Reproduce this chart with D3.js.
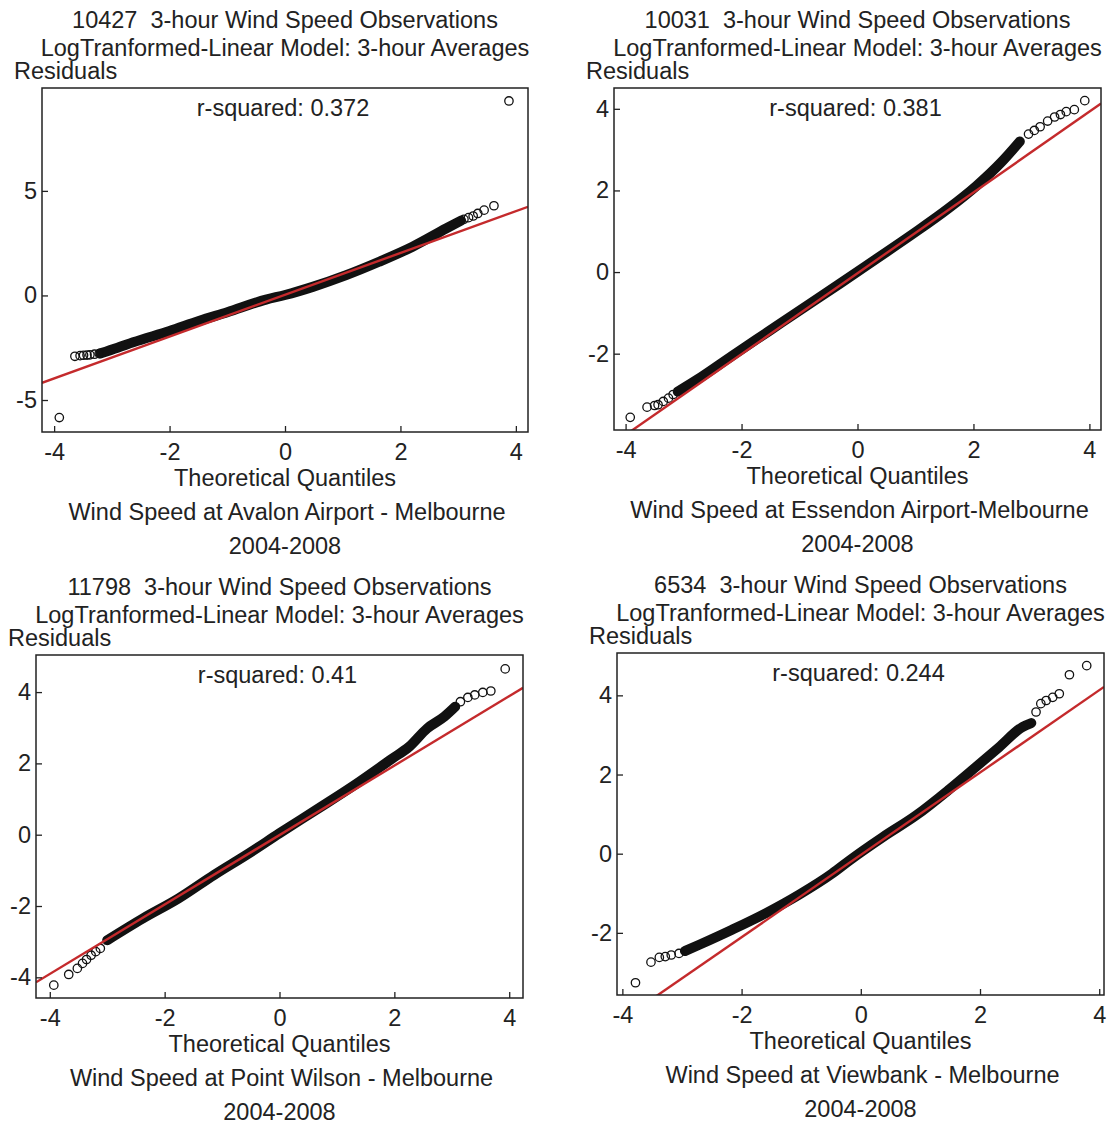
<!DOCTYPE html>
<html>
<head>
<meta charset="utf-8">
<script src="https://cdn.jsdelivr.net/npm/d3@7"></script>
<style>
  body { margin: 0; background: #fff; }
  svg { display: block; }
  text { font-family: "Liberation Sans", Arial, sans-serif; fill: #222; }
</style>
</head>
<body>
<svg id="chart"></svg>
<script>
const width = 1114;
const height = 1124;

// data
const obsCounts = ["10427", "10031", "11798", "6534"];
const stations = [
    "Wind Speed at Avalon Airport - Melbourne",
    "Wind Speed at Essendon Airport-Melbourne",
    "Wind Speed at Point Wilson - Melbourne",
    "Wind Speed at Viewbank - Melbourne"
];
const rSquared = ["0.372", "0.381", "0.41", "0.244"];
const period = "2004-2008";
const xTicks = [-4, -2, 0, 2, 4];
const yTickSets = [[-5, 0, 5], [-2, 0, 2, 4], [-4, -2, 0, 2, 4], [-2, 0, 2, 4]];
const xRanges = [[-4.21, 4.21], [-4.2, 4.2], [-4.24, 4.24], [-4.09, 4.08]];
const yRanges = [[-6.53, 9.92], [-3.87, 4.51], [-4.58, 5.04], [-3.57, 5.07]];

// qqline: [intercept, slope]
const qqLines = [[0.03, 1.0], [-0.03, 0.99], [-0.01, 0.974], [-0.03, 1.04]];

// dense part of each sample (theoretical quantile, residual)
const avalonBand = [[-3.2, -2.77], [-2.9, -2.5], [-2.63, -2.24], [-2.0, -1.7], [-1.48, -1.21],
    [-1.0, -0.8], [-0.33, -0.2], [0.0, 0.02], [0.48, 0.41], [1.06, 0.97], [1.63, 1.61],
    [2.21, 2.33], [2.79, 3.2], [3.05, 3.58]];
const essendonBand = [[-3.1, -2.93], [-2.77, -2.64], [-2.15, -2.04], [-1.53, -1.45], [-0.91, -0.86],
    [-0.3, -0.28], [0.3, 0.3], [0.94, 0.92], [1.56, 1.55], [2.05, 2.11], [2.48, 2.69], [2.8, 3.2]];
const wilsonBand = [[-3.0, -2.96], [-2.38, -2.35], [-1.76, -1.79], [-1.14, -1.13], [-0.53, -0.52],
    [0.0, 0.04], [0.71, 0.77], [1.33, 1.42], [1.95, 2.12], [2.26, 2.47], [2.57, 2.98],
    [2.87, 3.31], [3.06, 3.59]];
const viewbankBand = [[-2.95, -2.46], [-2.71, -2.3], [-2.16, -1.92], [-1.59, -1.5], [-1.03, -1.03],
    [-0.48, -0.5], [-0.19, -0.17], [0.37, 0.42], [0.93, 0.97], [1.48, 1.62], [1.93, 2.19],
    [2.32, 2.69], [2.71, 3.2], [2.86, 3.3]];

// sparse tail points drawn as single circles
const avalonTail = [[-3.91, -5.84], [-3.64, -2.91], [-3.55, -2.88], [-3.49, -2.86], [-3.43, -2.85],
    [-3.38, -2.84], [-3.3, -2.81], [-3.22, -2.78], [3.1, 3.64], [3.18, 3.72], [3.26, 3.8],
    [3.34, 3.92], [3.45, 4.08], [3.62, 4.29], [3.88, 9.3]];
const essendonTail = [[-3.92, -3.56], [-3.63, -3.31], [-3.5, -3.27], [-3.44, -3.25], [-3.35, -3.17],
    [-3.26, -3.09], [-3.18, -3.0], [2.95, 3.38], [3.05, 3.47], [3.15, 3.56], [3.28, 3.7],
    [3.4, 3.8], [3.5, 3.86], [3.6, 3.93], [3.74, 3.98], [3.92, 4.2]];
const wilsonTail = [[-3.93, -4.22], [-3.67, -3.92], [-3.52, -3.75], [-3.43, -3.61], [-3.36, -3.5],
    [-3.28, -3.38], [-3.2, -3.28], [-3.12, -3.19], [3.15, 3.73], [3.28, 3.85], [3.4, 3.92],
    [3.54, 3.99], [3.68, 4.03], [3.93, 4.65]];
const viewbankTail = [[-3.78, -3.26], [-3.52, -2.74], [-3.38, -2.62], [-3.28, -2.6], [-3.18, -2.56],
    [-3.05, -2.52], [2.94, 3.58], [3.02, 3.79], [3.11, 3.87], [3.22, 3.95], [3.33, 4.04],
    [3.5, 4.52], [3.79, 4.75]];

const bands = [avalonBand, essendonBand, wilsonBand, viewbankBand];
const tails = [avalonTail, essendonTail, wilsonTail, viewbankTail];

// plot boxes on the page
const boxes = [
    { left: 42, top: 88, right: 528, bottom: 432 },
    { left: 614, top: 88, right: 1101, bottom: 430 },
    { left: 36, top: 655, right: 523, bottom: 998 },
    { left: 617, top: 653, right: 1104, bottom: 995 }
];

const svg = d3.select('#chart')
    .attr('width', width)
    .attr('height', height);

svg.append('rect').attr('width', width).attr('height', height).attr('fill', '#fff');

const fontSize = 23.5;

boxes.forEach((b, i) => {
    const x = d3.scaleLinear().domain(xRanges[i]).range([b.left, b.right]);
    const y = d3.scaleLinear().domain(yRanges[i]).range([b.bottom, b.top]);
    const cx = (b.left + b.right) / 2;
    const g = svg.append('g').style('font-size', fontSize + 'px');

    g.append('defs').append('clipPath').attr('id', 'clip' + i)
        .append('rect')
        .attr('x', b.left).attr('y', b.top)
        .attr('width', b.right - b.left).attr('height', b.bottom - b.top);

    // titles
    g.append('text').attr('x', cx).attr('y', b.top - 68)
        .attr('text-anchor', 'middle').attr('dominant-baseline', 'central')
        .text(obsCounts[i] + '\u00a0 3-hour Wind Speed Observations');
    g.append('text').attr('x', cx).attr('y', b.top - 40)
        .attr('text-anchor', 'middle').attr('dominant-baseline', 'central')
        .text('LogTranformed-Linear Model: 3-hour Averages');
    g.append('text').attr('x', b.left - 28).attr('y', b.top - 17)
        .attr('dominant-baseline', 'central')
        .text('Residuals');

    const plot = g.append('g').attr('clip-path', `url(#clip${i})`);

    // dense band of overlapping circles
    plot.append('path')
        .datum(bands[i])
        .attr('fill', 'none')
        .attr('stroke', '#111')
        .attr('stroke-width', 10)
        .attr('stroke-linecap', 'round')
        .attr('stroke-linejoin', 'round')
        .attr('d', d3.line().x(d => x(d[0])).y(d => y(d[1])).curve(d3.curveMonotoneX));

    plot.selectAll('circle.pt')
        .data(tails[i])
        .enter().append('circle')
        .attr('class', 'pt')
        .attr('cx', d => x(d[0]))
        .attr('cy', d => y(d[1]))
        .attr('r', 4.2)
        .attr('fill', 'none')
        .attr('stroke', '#111')
        .attr('stroke-width', 1.3);

    // qqline
    const [a, s] = qqLines[i];
    const xd = x.domain();
    plot.append('line')
        .attr('x1', x(xd[0])).attr('y1', y(a + s * xd[0]))
        .attr('x2', x(xd[1])).attr('y2', y(a + s * xd[1]))
        .attr('stroke', '#c42a2c')
        .attr('stroke-width', 2.4);

    g.append('text').attr('x', cx - 2).attr('y', b.top + 20)
        .attr('text-anchor', 'middle').attr('dominant-baseline', 'central')
        .text('r-squared: ' + rSquared[i]);

    // axes with inward ticks
    const xAxis = g.append('g')
        .attr('transform', `translate(0,${b.bottom})`)
        .call(d3.axisBottom(x).tickValues(xTicks).tickSize(-6).tickSizeOuter(0).tickPadding(11)
            .tickFormat(d3.format('d')));
    const yAxis = g.append('g')
        .attr('transform', `translate(${b.left},0)`)
        .call(d3.axisLeft(y).tickValues(yTickSets[i]).tickSize(-6).tickSizeOuter(0).tickPadding(5)
            .tickFormat(d3.format('d')));
    [xAxis, yAxis].forEach(ax => {
        ax.select('.domain').remove();
        ax.selectAll('line').attr('stroke', '#222').attr('stroke-width', 1.3);
        ax.selectAll('text').style('font-size', fontSize + 'px')
            .style('font-family', '"Liberation Sans", Arial, sans-serif')
            .attr('fill', '#222')
            .text(d => d < 0 ? '-' + Math.abs(d) : d);
    });

    g.append('rect')
        .attr('x', b.left).attr('y', b.top)
        .attr('width', b.right - b.left).attr('height', b.bottom - b.top)
        .attr('fill', 'none').attr('stroke', '#222').attr('stroke-width', 1.5);

    g.append('text').attr('x', cx).attr('y', b.bottom + 46)
        .attr('text-anchor', 'middle').attr('dominant-baseline', 'central')
        .text('Theoretical Quantiles');
    g.append('text').attr('x', cx + 2).attr('y', b.bottom + 80)
        .attr('text-anchor', 'middle').attr('dominant-baseline', 'central')
        .text(stations[i]);
    g.append('text').attr('x', cx).attr('y', b.bottom + 114)
        .attr('text-anchor', 'middle').attr('dominant-baseline', 'central')
        .text(period);
});
</script>
</body>
</html>
